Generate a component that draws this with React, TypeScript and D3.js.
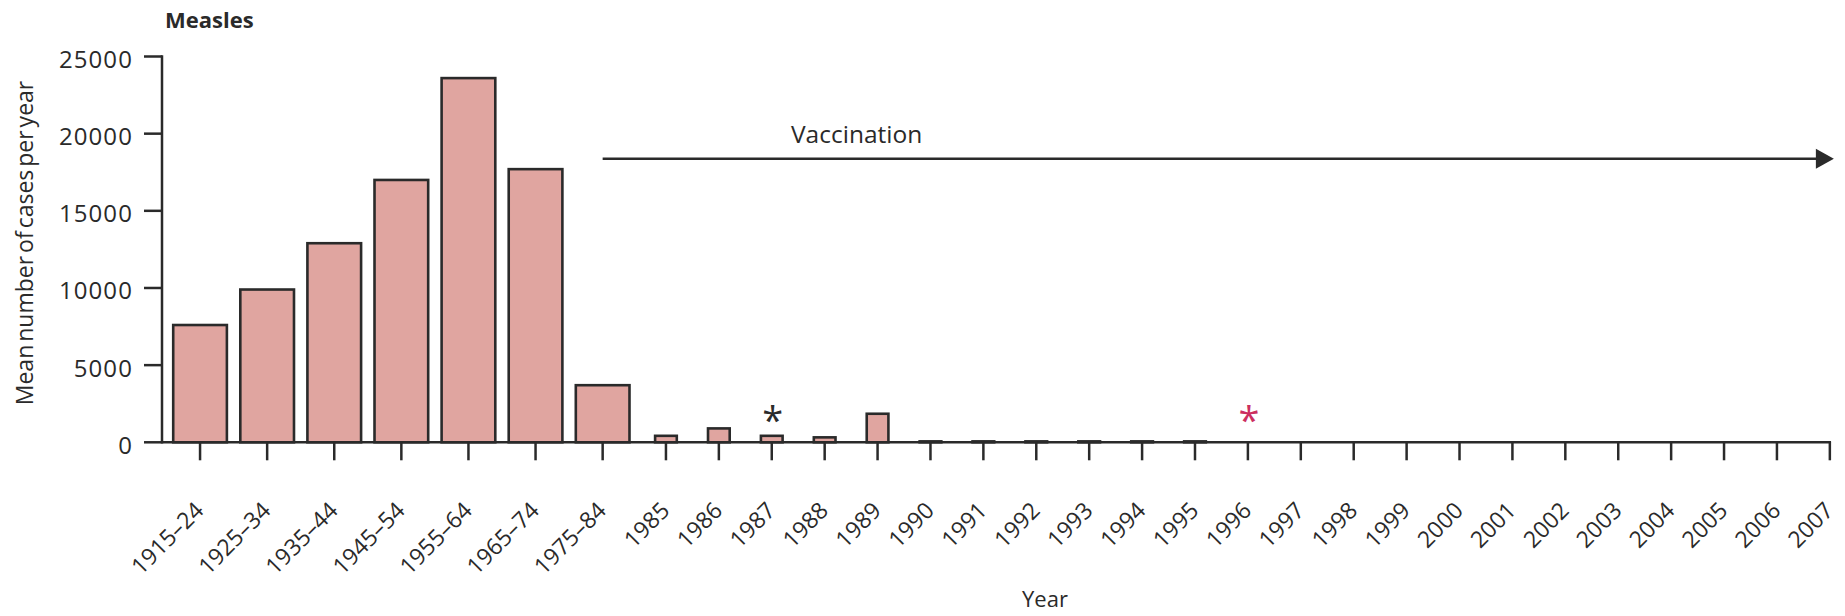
import React from "react";
import * as d3 from "d3";

const decadeLabels = ["1915–24", "1925–34", "1935–44", "1945–54", "1955–64", "1965–74", "1975–84"];
const decadeValues = [7600, 9900, 12900, 17000, 23600, 17700, 3700];
const yearLabels = ["1985", "1986", "1987", "1988", "1989", "1990", "1991", "1992", "1993", "1994", "1995", "1996", "1997", "1998", "1999", "2000", "2001", "2002", "2003", "2004", "2005", "2006", "2007"];
const yearValues = [420, 900, 420, 320, 1850, 60, 60, 60, 60, 60, 60, 0, 0, 0, 0, 0, 0, 0, 0, 0, 0, 0, 0];
const yTicks = [0, 5000, 10000, 15000, 20000, 25000];
const notes = [
  { year: "1987", color: "#2b2b2b" },
  { year: "1996", color: "#cc2f5f" },
];
const vaccinationStart = "1975–84";
const vaccinationEnd = "2007";

const FONT = "'Open Sans', 'Noto Sans', sans-serif";
const INK = "#2a2a2a";
const FILL = "#e0a5a0";

export default function App() {
  const W = 1845, H = 616;
  const axisX = 162;
  const y = d3.scaleLinear().domain([0, 25000]).range([442.3, 56.5]);
  const xDec = d3.scaleBand<string>().domain(decadeLabels).range([166.5, 636.2]).paddingInner(0.2).paddingOuter(0.1);
  const xYear = d3.scaleBand<string>().domain(yearLabels).range([639.5, 1856.3]).paddingInner(0.59).paddingOuter(0.295);
  const decCenter = (d: string) => (xDec(d) as number) + xDec.bandwidth() / 2;
  const yearCenter = (d: string) => (xYear(d) as number) + xYear.bandwidth() / 2;
  const y0 = y(0);
  const axisEnd = yearCenter("2007");

  const ticksX = [
    ...decadeLabels.map((l) => ({ l, x: decCenter(l) })),
    ...yearLabels.map((l) => ({ l, x: yearCenter(l) })),
  ];

  const arrowY = 158.8;
  const arrowX0 = decCenter(vaccinationStart);
  const arrowX1 = yearCenter(vaccinationEnd) - 12;

  return (
    <svg width={W} height={H} style={{ position: "absolute", left: 0, top: 0, background: "#fff" }} fontFamily={FONT}>
      <rect x={0} y={0} width={W} height={H} fill="#fff" />
      <text x={165} y={28} fontSize={22} fontWeight={700} fill={INK}>Measles</text>
      <text transform={`translate(33,243) rotate(-90)`} textAnchor="middle" fontSize={23} fill={INK} wordSpacing={-3}>
        Mean number of cases per year
      </text>

      {/* bars */}
      {decadeLabels.map((l, i) => (
        <rect key={l} x={xDec(l)} y={y(decadeValues[i])} width={xDec.bandwidth()} height={y0 - y(decadeValues[i])}
          fill={FILL} stroke={INK} strokeWidth={2.6} />
      ))}
      {yearLabels.map((l, i) =>
        yearValues[i] > 0 ? (
          <rect key={l} x={xYear(l)} y={y(yearValues[i])} width={xYear.bandwidth()} height={y0 - y(yearValues[i])}
            fill={FILL} stroke={INK} strokeWidth={2.6} />
        ) : null
      )}

      {/* y axis */}
      <line x1={axisX} x2={axisX} y1={y(25000) - 1.2} y2={y0 + 1.2} stroke={INK} strokeWidth={2.5} />
      {yTicks.map((t) => (
        <g key={t}>
          <line x1={axisX - 18} x2={axisX} y1={y(t)} y2={y(t)} stroke={INK} strokeWidth={2.5} />
          <text x={133} y={y(t) + 11.5} textAnchor="end" fontSize={24} letterSpacing={1.1} fill={INK}>{t}</text>
        </g>
      ))}

      {/* x axis */}
      <line x1={axisX} x2={axisEnd + 1.2} y1={y0} y2={y0} stroke={INK} strokeWidth={2.5} />
      {ticksX.map(({ l, x }) => (
        <g key={l}>
          <line x1={x} x2={x} y1={y0} y2={y0 + 18} stroke={INK} strokeWidth={2.5} />
          <text transform={`translate(${x + 5},512) rotate(-45)`} textAnchor="end" fontSize={23} fill={INK}>{l}</text>
        </g>
      ))}
      <text x={1045} y={607} textAnchor="middle" fontSize={22} fill={INK}>Year</text>

      {/* notes */}
      {notes.map((n) => (
        <text key={n.year} x={yearCenter(n.year) + 1} y={434} textAnchor="middle" fontSize={38} fill={n.color}>*</text>
      ))}

      {/* vaccination arrow */}
      <line x1={arrowX0} x2={arrowX1} y1={arrowY} y2={arrowY} stroke={INK} strokeWidth={2.5} />
      <path d={`M${arrowX1 - 2},${arrowY - 10} L${arrowX1 + 16},${arrowY} L${arrowX1 - 2},${arrowY + 10} Z`} fill={INK} />
      <text x={791} y={143} fontSize={24.5} fill={INK}>Vaccination</text>
    </svg>
  );
}
